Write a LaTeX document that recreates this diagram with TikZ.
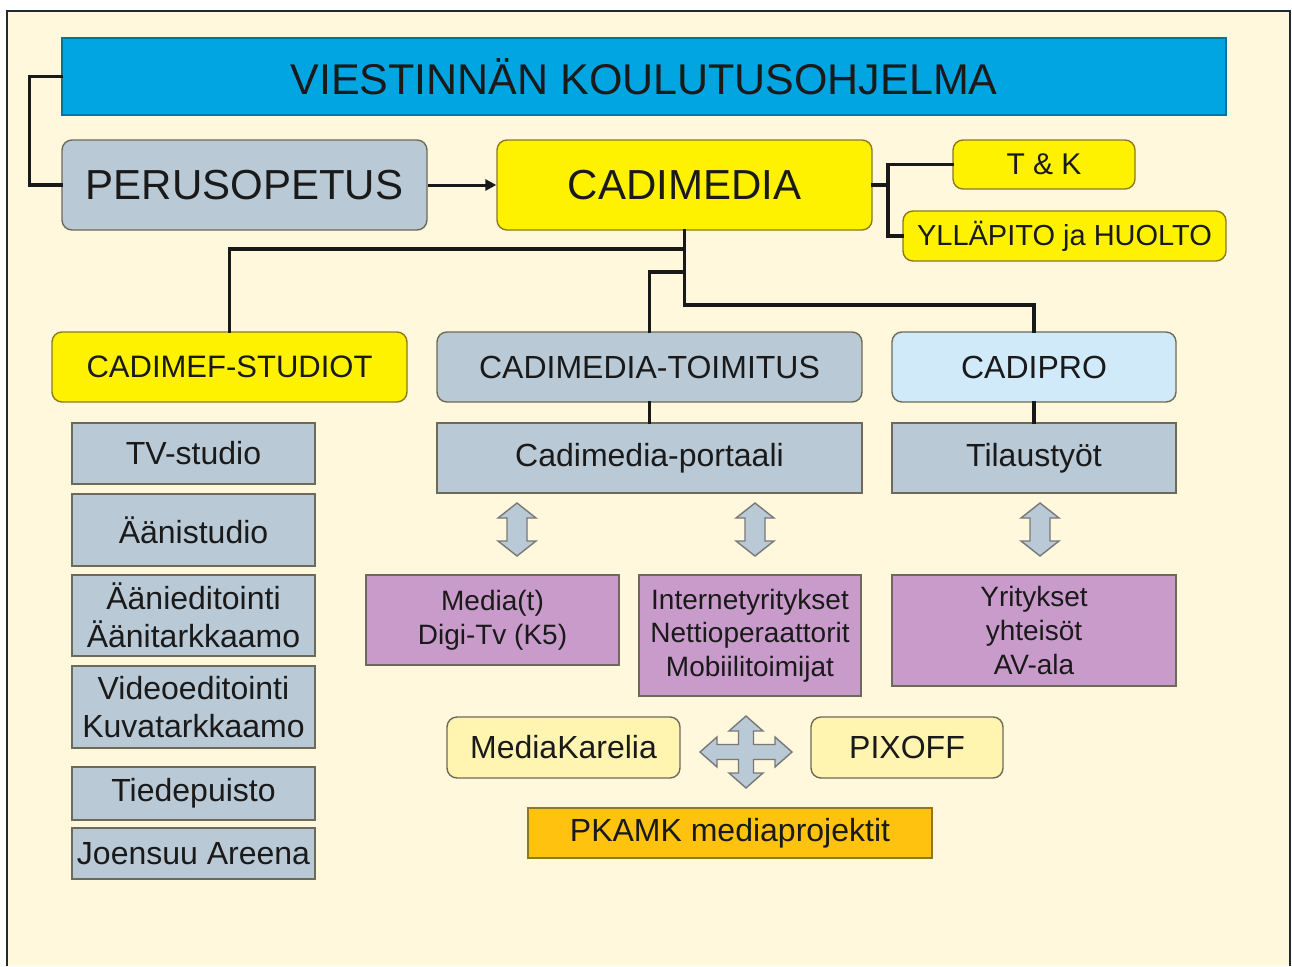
\documentclass[tikz,border=0pt]{standalone}
\usepackage{fontspec}
\setmainfont{Liberation Sans}
\usetikzlibrary{arrows.meta}
\definecolor{bg}{HTML}{FFF8DC}
\definecolor{frame}{HTML}{1F2B30}
\definecolor{tblue}{HTML}{00A5E2}
\definecolor{gbox}{HTML}{B9C9D5}
\definecolor{ybox}{HTML}{FFF200}
\definecolor{lblue}{HTML}{D0EAFA}
\definecolor{pbox}{HTML}{C99BCB}
\definecolor{lybox}{HTML}{FFF5B0}
\definecolor{obox}{HTML}{FFC20E}
\definecolor{edge}{HTML}{6E6A5A}
\definecolor{yedge}{HTML}{8C7A1E}
\definecolor{txt}{HTML}{1A1A1A}
\definecolor{aedge}{HTML}{787878}
\newcommand{\fs}[1]{\fontsize{#1}{\dimexpr #1pt*12/10\relax}\selectfont}
\tikzset{
  base/.style={draw=edge, line width=1.4pt, text=txt, align=center, inner sep=0pt},
  rbox/.style={base, rounded corners=10pt},
  graybox/.style={base, fill=gbox},
  conn/.style={line width=3.5pt, draw=black!90, line cap=rect},
  blockarrow/.style={fill=gbox, draw=aedge, line width=1.4pt, line join=miter},
}
\begin{document}
\begin{tikzpicture}[x=1pt,y=-1pt]
\useasboundingbox (0,0) rectangle (1292,966);
\fill[white] (0,0) rectangle (1292,966);
\fill[bg] (7,11) rectangle (1290,966);
\draw[frame, line width=2pt] (7,966) -- (7,11) -- (1290,11) -- (1290,966);

% title
\node[base, draw=tblue!70!black, fill=tblue, minimum width=1164pt, minimum height=77pt, font=\fs{43}] (title) at (644,76.5) {VIESTINNÄN KOULUTUSOHJELMA};

% second row
\node[rbox, fill=gbox, minimum width=365pt, minimum height=90pt, font=\fs{42}] (peru) at (244.5,185) {PERUSOPETUS};
\node[rbox, draw=yedge, fill=ybox, minimum width=375pt, minimum height=90pt, font=\fs{42}] (cadi) at (684.5,185) {CADIMEDIA};
\node[rbox, draw=yedge, fill=ybox, minimum width=182pt, minimum height=49pt, font=\fs{30}] (tk) at (1044,164.5) {T \& K};
\node[rbox, draw=yedge, fill=ybox, minimum width=323pt, minimum height=50pt, font=\fs{29}] (yl) at (1064.5,236) {YLLÄPITO ja HUOLTO};

% third row
\node[rbox, draw=yedge, fill=ybox, minimum width=355pt, minimum height=70pt, font=\fs{31}] (studiot) at (229.5,367) {CADIMEF-STUDIOT};
\node[rbox, fill=gbox, minimum width=425pt, minimum height=70pt, font=\fs{32}] (toim) at (649.5,367) {CADIMEDIA-TOIMITUS};
\node[rbox, fill=lblue, minimum width=284pt, minimum height=70pt, font=\fs{32}] (cadipro) at (1034,367) {CADIPRO};

\node[graybox, minimum width=425pt, minimum height=70pt, font=\fs{32}] (portaali) at (649.5,458) {Cadimedia-portaali};
\node[graybox, minimum width=284pt, minimum height=70pt, font=\fs{32}] (tilaus) at (1034,458) {Tilaustyöt};

% left column
\tikzset{leftbox/.style={graybox, minimum width=243pt, font=\fs{32}}}
\node[leftbox, minimum height=61pt] (tv) at (193.5,453.5) {TV-studio};
\node[leftbox, minimum height=72pt] (aani) at (193.5,530) {Äänistudio};
\node[leftbox, minimum height=81pt] (aedit) at (193.5,615.5) {Äänieditointi\\Äänitarkkaamo};
\node[leftbox, minimum height=82pt] (vedit) at (193.5,707) {Videoeditointi\\Kuvatarkkaamo};
\node[leftbox, minimum height=53pt] (tiede) at (193.5,793.5) {Tiedepuisto};
\node[leftbox, minimum height=51pt] (joe) at (193.5,853.5) {Joensuu Areena};

% purple boxes
\tikzset{purple/.style={base, fill=pbox, font=\fs{28}}}
\node[purple, minimum width=253pt, minimum height=90pt] (media) at (492.5,620) {Media(t)\\Digi-Tv (K5)};
\node[purple, minimum width=222pt, minimum height=121pt] (inet) at (750,635.5) {Internetyritykset\\Nettioperaattorit\\Mobiilitoimijat};
\node[purple, minimum width=284pt, minimum height=111pt] (yrit) at (1034,630.5) {Yritykset\\yhteisöt\\AV-ala};

% bottom
\node[rbox, fill=lybox, minimum width=233pt, minimum height=61pt, font=\fs{32}] (mk) at (563.5,747.5) {MediaKarelia};
\node[rbox, fill=lybox, minimum width=192pt, minimum height=61pt, font=\fs{32}] (pix) at (907,747.5) {PIXOFF};
\node[base, draw=yedge, fill=obox, minimum width=404pt, minimum height=50pt, font=\fs{32}] (pkamk) at (730,833) {PKAMK mediaprojektit};

% connectors
\draw[conn] (title.west) -- ++(-32,0) |- (peru.west);
\draw[line width=3pt, black!90, -{Triangle[length=11pt,width=11pt]}] (peru.east) -- (cadi.west);
\coordinate (j1) at (888,185);
\draw[conn] (cadi.east) -- (j1);
\draw[conn] (tk.west) -| (j1) |- (yl.west);
\coordinate (b1) at (684.5,249);
\coordinate (b2) at (684.5,272);
\coordinate (b3) at (684.5,305);
\draw[conn] (cadi.south) -- (b3) -| (cadipro.north);
\draw[conn] (b1) -| (studiot.north);
\draw[conn] (b2) -| (toim.north);
\draw[conn] (toim.south) -- (portaali.north);
\draw[conn] (cadipro.south) -- (tilaus.north);

% vertical double arrows
\foreach \cx in {517,755,1040}{
  \draw[blockarrow] (\cx,503) -- (\cx+19,518) -- (\cx+10,518) -- (\cx+10,541) -- (\cx+19,541) -- (\cx,556)
    -- (\cx-19,541) -- (\cx-10,541) -- (\cx-10,518) -- (\cx-19,518) -- cycle;
}
% four-way arrow
\def\ax{746}\def\ay{752}
\draw[blockarrow] (\ax,\ay-36) -- (\ax+17,\ay-21) -- (\ax+7.5,\ay-21) -- (\ax+7.5,\ay-7.5)
  -- (\ax+29,\ay-7.5) -- (\ax+29,\ay-15) -- (\ax+46,\ay) -- (\ax+29,\ay+15) -- (\ax+29,\ay+7.5)
  -- (\ax+7.5,\ay+7.5) -- (\ax+7.5,\ay+21) -- (\ax+17,\ay+21) -- (\ax,\ay+36) -- (\ax-17,\ay+21)
  -- (\ax-7.5,\ay+21) -- (\ax-7.5,\ay+7.5) -- (\ax-29,\ay+7.5) -- (\ax-29,\ay+15) -- (\ax-46,\ay)
  -- (\ax-29,\ay-15) -- (\ax-29,\ay-7.5) -- (\ax-7.5,\ay-7.5) -- (\ax-7.5,\ay-21) -- (\ax-17,\ay-21) -- cycle;
\end{tikzpicture}
\end{document}
